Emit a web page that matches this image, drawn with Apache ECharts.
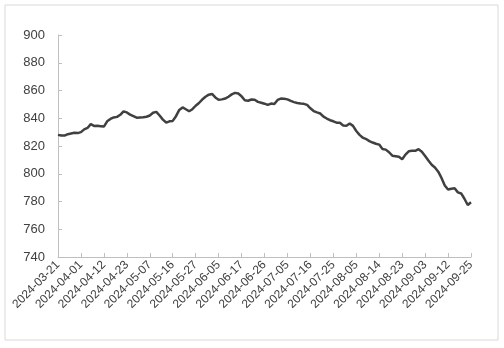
<!DOCTYPE html>
<html>
<head>
<meta charset="utf-8">
<script src="https://cdn.jsdelivr.net/npm/echarts@6/dist/echarts.min.js"></script>
<style>
  html, body { margin: 0; padding: 0; background: #fff; }
  #chart { width: 504px; height: 348px; }
</style>
</head>
<body>
<div id="chart"></div>
<script>
// trading days, 2024-03-21 .. 2024-09-25
const dates = [
  "2024-03-21", "2024-03-22", "2024-03-25", "2024-03-26", "2024-03-27", "2024-03-28", "2024-03-29",
  "2024-04-01", "2024-04-02", "2024-04-03", "2024-04-08", "2024-04-09", "2024-04-10", "2024-04-11", "2024-04-12",
  "2024-04-15", "2024-04-16", "2024-04-17", "2024-04-18", "2024-04-19", "2024-04-22", "2024-04-23", "2024-04-24",
  "2024-04-25", "2024-04-26", "2024-04-29", "2024-04-30",
  "2024-05-06", "2024-05-07", "2024-05-08", "2024-05-09", "2024-05-10", "2024-05-13", "2024-05-14", "2024-05-15",
  "2024-05-16", "2024-05-17", "2024-05-20", "2024-05-21", "2024-05-22", "2024-05-23", "2024-05-24", "2024-05-27",
  "2024-05-28", "2024-05-29", "2024-05-30", "2024-05-31",
  "2024-06-03", "2024-06-04", "2024-06-05", "2024-06-06", "2024-06-07", "2024-06-11", "2024-06-12", "2024-06-13",
  "2024-06-14", "2024-06-17", "2024-06-18", "2024-06-19", "2024-06-20", "2024-06-21", "2024-06-24", "2024-06-25",
  "2024-06-26", "2024-06-27", "2024-06-28",
  "2024-07-01", "2024-07-02", "2024-07-03", "2024-07-04", "2024-07-05", "2024-07-08", "2024-07-09", "2024-07-10",
  "2024-07-11", "2024-07-12", "2024-07-15", "2024-07-16", "2024-07-17", "2024-07-18", "2024-07-19", "2024-07-22",
  "2024-07-23", "2024-07-24", "2024-07-25", "2024-07-26", "2024-07-29", "2024-07-30", "2024-07-31",
  "2024-08-01", "2024-08-02", "2024-08-05", "2024-08-06", "2024-08-07", "2024-08-08", "2024-08-09", "2024-08-12",
  "2024-08-13", "2024-08-14", "2024-08-15", "2024-08-16", "2024-08-19", "2024-08-20", "2024-08-21", "2024-08-22",
  "2024-08-23", "2024-08-26", "2024-08-27", "2024-08-28", "2024-08-29", "2024-08-30",
  "2024-09-02", "2024-09-03", "2024-09-04", "2024-09-05", "2024-09-06", "2024-09-09", "2024-09-10", "2024-09-11",
  "2024-09-12", "2024-09-13", "2024-09-18", "2024-09-19", "2024-09-20", "2024-09-23", "2024-09-24", "2024-09-25"
];

const values = [
  828, 827.5, 827.5, 828.5, 829, 829.5, 829.3,
  830, 832, 833, 835.8, 834.5, 834.6, 834.3, 834,
  837.8, 839.5, 840.6, 841, 842.5, 845, 844.2, 842.6,
  841.5, 840.4, 840.6, 840.8,
  841.1, 842, 844, 844.6, 842, 839, 836.9, 837.8,
  838.1, 841.5, 846, 847.8, 846.5, 845, 846.5, 849,
  851, 853.5, 855.5, 857,
  857.5, 855, 853.3, 853.6, 854.2, 855.5, 857.2, 858.3,
  857.8, 855.8, 853, 852.6, 853.5, 853.3, 851.8, 851.2,
  850.5, 849.6, 850.6,
  850.2, 853.2, 854.2, 854.1, 853.6, 852.5, 851.6, 851,
  850.6, 850.4, 849.6, 847.2, 845.2, 844.2, 843.4, 841.2,
  839.8, 838.6, 837.8, 836.8, 836.7, 834.8, 834.6,
  836.2, 834.5, 830.8, 828, 826, 825, 823.5, 822.5,
  821.6, 821, 817.8, 817.4, 815.5, 813, 812.6, 812.2,
  810.4, 813.8, 816.2, 816.5, 816.5, 817.7,
  815.8, 812.8, 809.5, 806.5, 804.5, 801.5, 797, 791.5,
  788.6, 789.2, 789.5, 786.6, 785.8, 782, 777.5, 779.5
];

const yMin = 740;
const yMax = 900;
const yStep = 20;
const labelEvery = 7;

const chart = echarts.init(document.getElementById("chart"));
const option = {
  animation: false,
  grid: {
    left: 58,
    right: 33,
    top: 35,
    bottom: 91
  },
  graphic: [
    {
      type: "rect",
      shape: { x: 5, y: 5, width: 493, height: 335 },
      style: { fill: "none", stroke: "#d9d9d9", lineWidth: 1 }
    }
  ],
  xAxis: {
    type: "category",
    data: dates,
    boundaryGap: false,
    axisLine: { lineStyle: { color: "#bfbfbf", width: 1 } },
    axisTick: {
      inside: true,
      length: 4,
      interval: labelEvery - 1,
      lineStyle: { color: "#bfbfbf" }
    },
    axisLabel: {
      interval: labelEvery - 1,
      rotate: 45,
      margin: 6,
      color: "#404040",
      fontFamily: "Liberation Sans",
      fontSize: 12
    },
    splitLine: { show: false }
  },
  yAxis: {
    type: "value",
    min: yMin,
    max: yMax,
    interval: yStep,
    axisLine: { show: true, lineStyle: { color: "#bfbfbf", width: 1 } },
    axisTick: { show: true, inside: true, length: 4, lineStyle: { color: "#bfbfbf" } },
    axisLabel: {
      margin: 13,
      color: "#404040",
      fontFamily: "Liberation Sans",
      fontSize: 13
    },
    splitLine: { show: false }
  },
  series: [
    {
      type: "line",
      data: values,
      showSymbol: false,
      symbol: "none",
      lineStyle: { color: "#404040", width: 2.5 }
    }
  ]
};
chart.setOption(option);
</script>
</body>
</html>
